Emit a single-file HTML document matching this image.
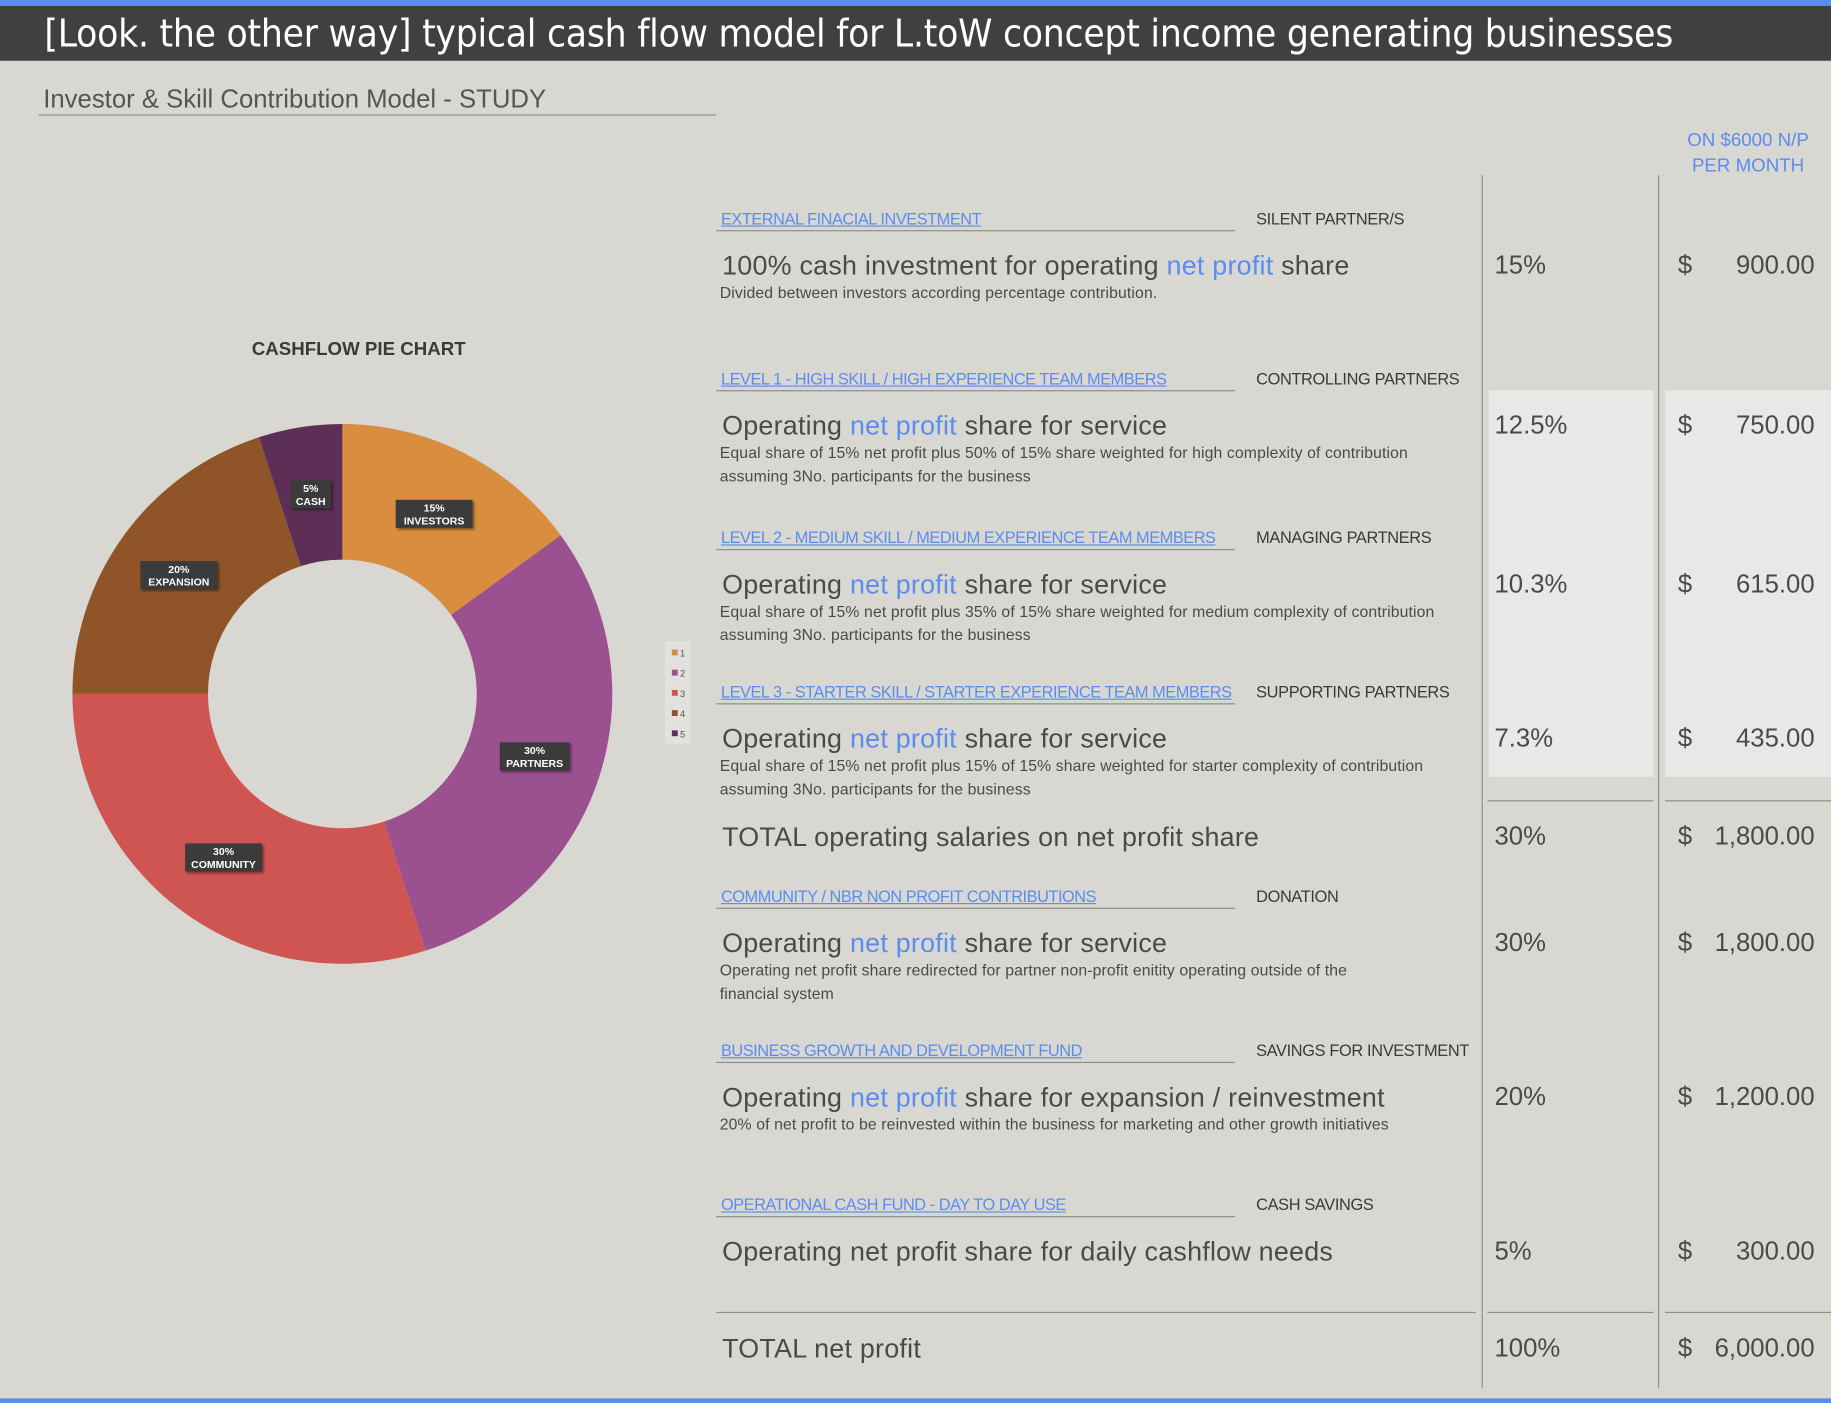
<!DOCTYPE html>
<html><head><meta charset="utf-8">
<style>
html,body{margin:0;padding:0;width:1831px;height:1403px;overflow:hidden;background:#d8d7d2;}
#wrap{position:absolute;left:0;top:0;width:1567px;height:1201px;transform:scale(1.16847,1.16819);transform-origin:0 0;font-family:"Liberation Sans",sans-serif;color:#4a4a4a;}
.a{position:absolute;white-space:nowrap;line-height:1;}
.hd{font-size:14px;color:#5b8def;text-decoration:underline;letter-spacing:-0.4px;}
.rl{font-size:14px;color:#3a3a3a;letter-spacing:-0.3px;}
.mn{font-size:23px;color:#4a4a4a;letter-spacing:0.2px;}
.sb{font-size:13.5px;color:#4a4a4a;letter-spacing:0.1px;}
.bl{color:#5b8def;}
.pc{font-size:22px;color:#4a4a4a;}
.rule{position:absolute;height:1.2px;background:#8e8e82;}
.vl{position:absolute;width:1.2px;background:#8e8e82;}
</style></head><body>
<div id="wrap">
<div style="position:absolute;left:0;top:0;width:1567px;height:5px;background:#5b8def"></div>
<div style="position:absolute;left:0;top:5px;width:1567px;height:47px;background:#404040"></div>
<div class="a" style="left:38px;top:12px;font-size:33px;color:#fff;font-family:'DejaVu Sans Condensed','Liberation Sans',sans-serif;letter-spacing:-0.2px">[Look. the other way] typical cash flow model for L.toW concept income generating businesses</div>
<div style="position:absolute;left:0;top:1197px;width:1567px;height:4px;background:#5b8def"></div>

<div class="a" style="left:37px;top:74px;font-size:22px;color:#555;letter-spacing:0px">Investor &amp; Skill Contribution Model - STUDY</div>
<div class="rule" style="left:33px;top:98px;width:580px"></div>

<div class="a" style="left:1425px;top:110px;width:142px;text-align:center;font-size:16px;color:#5b8def;line-height:22px">ON $6000 N/P<br>PER MONTH</div>

<div style="position:absolute;left:1274px;top:334px;width:141px;height:331px;background:#e8e8e6"></div>
<div style="position:absolute;left:1425px;top:334px;width:142px;height:331px;background:#e8e8e6"></div>
<div class="vl" style="left:1268px;top:150px;height:1038px"></div>
<div class="vl" style="left:1419px;top:150px;height:1038px"></div>
<div class="rule" style="left:1273px;top:685px;width:142px"></div>
<div class="rule" style="left:1425px;top:685px;width:142px"></div>
<div class="rule" style="left:613px;top:1123px;width:650px"></div>
<div class="rule" style="left:1273px;top:1123px;width:142px"></div>
<div class="rule" style="left:1425px;top:1123px;width:142px"></div>

<div id="rows"></div>

<svg id="chart" style="position:absolute;left:0;top:260px" width="610" height="600">
<defs><filter id="sh" x="-20%" y="-20%" width="140%" height="140%"><feDropShadow dx="1.5" dy="1.5" stdDeviation="1.2" flood-color="#000" flood-opacity="0.45"/></filter></defs>
<text x="307" y="44" text-anchor="middle" font-family="Liberation Sans,sans-serif" font-weight="bold" font-size="16" fill="#3a3a3a">CASHFLOW PIE CHART</text>
<g id="slices"></g><g id="labels"></g>
<rect x="569" y="289" width="22" height="88" fill="#e2e1dd"/>
<g id="legend"></g>
</svg>
</div>
<script>
const categories=["INVESTORS","PARTNERS","COMMUNITY","EXPANSION","CASH"];
const values=[15,30,30,20,5];
const colors=["#d98e3f","#9b5090","#cf5553","#8f5427","#5e2f56"];
const legendLabels=["1","2","3","4","5"];

const NS="http://www.w3.org/2000/svg";
const cx=293,cy=334,R=231,r=115,LR=173;
const total=values.reduce((a,b)=>a+b,0);
function ang(v){return v/total*2*Math.PI;}
function pt(rad,a){return [cx+rad*Math.sin(a),cy-rad*Math.cos(a)];}
let acc=0;
const sg=document.getElementById('slices'),lg=document.getElementById('labels'),leg=document.getElementById('legend');
values.forEach((v,i)=>{
  const a0=ang(acc),a1=ang(acc+v);acc+=v;
  const big=(a1-a0)>Math.PI?1:0;
  const p1=pt(R,a0),p2=pt(R,a1),p3=pt(r,a1),p4=pt(r,a0);
  const p=document.createElementNS(NS,'path');
  p.setAttribute('d',`M${p1[0]},${p1[1]}A${R},${R} 0 ${big} 1 ${p2[0]},${p2[1]}L${p3[0]},${p3[1]}A${r},${r} 0 ${big} 0 ${p4[0]},${p4[1]}Z`);
  p.setAttribute('fill',colors[i]);
  
  
  sg.appendChild(p);
  const m=pt(LR,(a0+a1)/2);
  const g=document.createElementNS(NS,'g');
  
  
  const w=categories[i].length*6.2+10;
  const rc=document.createElementNS(NS,'rect');
  rc.setAttribute('x',m[0]-w/2);rc.setAttribute('y',m[1]-12);rc.setAttribute('width',w);rc.setAttribute('height',24);
  rc.setAttribute('fill','#3a3a3a');rc.setAttribute('filter','url(#sh)');
  g.appendChild(rc);
  [[v+'%',-2],[categories[i],9]].forEach(([t,dy])=>{
    const tx=document.createElementNS(NS,'text');
    tx.setAttribute('x',m[0]);tx.setAttribute('y',m[1]+dy);
    tx.setAttribute('text-anchor','middle');tx.setAttribute('font-family','Liberation Sans,sans-serif');
    tx.setAttribute('font-weight','bold');tx.setAttribute('font-size','9');tx.setAttribute('fill','#fff');
    tx.textContent=t;g.appendChild(tx);
  });
  lg.appendChild(g);
  const ly=299+i*17.3;
  const b=document.createElementNS(NS,'rect');
  b.setAttribute('x',575);b.setAttribute('y',ly-3);b.setAttribute('width',5);b.setAttribute('height',5);b.setAttribute('fill',colors[i]);
  
  
  leg.appendChild(b);
  const lt=document.createElementNS(NS,'text');
  lt.setAttribute('x',582);lt.setAttribute('y',ly+3);lt.setAttribute('font-size','8');lt.setAttribute('fill','#555');
  lt.setAttribute('font-family','Liberation Sans,sans-serif');lt.textContent=legendLabels[i];
  
  
  leg.appendChild(lt);
});

const sections=[
 {y:188,h:"EXTERNAL FINACIAL INVESTMENT",r:"SILENT PARTNER/S",m:'100% cash investment for operating <span class="bl">net profit</span> share',s:["Divided between investors according percentage contribution."],p:"15%",v:"900.00"},
 {y:325,h:"LEVEL 1 - HIGH SKILL / HIGH EXPERIENCE TEAM MEMBERS",r:"CONTROLLING PARTNERS",m:'Operating <span class="bl">net profit</span> share for service',s:["Equal share of 15% net profit plus 50% of 15% share weighted for high complexity of contribution","assuming 3No. participants for the business"],p:"12.5%",v:"750.00"},
 {y:461,h:"LEVEL 2 - MEDIUM SKILL / MEDIUM EXPERIENCE TEAM MEMBERS",r:"MANAGING PARTNERS",m:'Operating <span class="bl">net profit</span> share for service',s:["Equal share of 15% net profit plus 35% of 15% share weighted for medium complexity of contribution","assuming 3No. participants for the business"],p:"10.3%",v:"615.00"},
 {y:593,h:"LEVEL 3 - STARTER SKILL / STARTER EXPERIENCE TEAM MEMBERS",r:"SUPPORTING PARTNERS",m:'Operating <span class="bl">net profit</span> share for service',s:["Equal share of 15% net profit plus 15% of 15% share weighted for starter complexity of contribution","assuming 3No. participants for the business"],p:"7.3%",v:"435.00"},
 {y:768,h:"COMMUNITY / NBR NON PROFIT CONTRIBUTIONS",r:"DONATION",m:'Operating <span class="bl">net profit</span> share for service',s:["Operating net profit share redirected for partner non-profit enitity operating outside of the","financial system"],p:"30%",v:"1,800.00"},
 {y:900,h:"BUSINESS GROWTH AND DEVELOPMENT FUND",r:"SAVINGS FOR INVESTMENT",m:'Operating <span class="bl">net profit</span> share for expansion / reinvestment',s:["20% of net profit to be reinvested within the business for marketing and other growth initiatives"],p:"20%",v:"1,200.00"},
 {y:1032,h:"OPERATIONAL CASH FUND - DAY TO DAY USE",r:"CASH SAVINGS",m:'Operating net profit share for daily cashflow needs',s:[],p:"5%",v:"300.00"}
];
const totals=[{y:717,m:"TOTAL operating salaries on net profit share",p:"30%",v:"1,800.00"},{y:1155,m:"TOTAL net profit",p:"100%",v:"6,000.00"}];
let html="";
function row(y,m,p,v,name){
  html+=`<div class="a mn" style="left:618px;top:${y-12}px">${m}</div>`;
  html+=`<div class="a pc" style="left:1279px;top:${y-12}px">${p}</div>`;
  html+=`<div class="a pc" style="left:1436px;top:${y-12}px">$</div>`;
  html+=`<div class="a pc" style="right:14px;top:${y-12}px">${v}</div>`;
}
sections.forEach((s,i)=>{
  const n="row-"+(i+1);
  html+=`<div class="a hd" style="left:617px;top:${s.y-8}px">${s.h}</div>`;
  html+=`<div class="rule" style="left:613px;top:${s.y+9}px;width:444px"></div>`;
  html+=`<div class="a rl" style="left:1075px;top:${s.y-8}px">${s.r}</div>`;
  row(s.y+40,s.m,s.p,s.v,n);
  s.s.forEach((t,j)=>{html+=`<div class="a sb" style="left:616px;top:${s.y+56+j*20}px">${t}</div>`;});
});
totals.forEach((t,i)=>row(t.y,t.m,t.p,t.v,"total-"+(i+1)));
document.getElementById('rows').outerHTML=html;
</script>
</body></html>
